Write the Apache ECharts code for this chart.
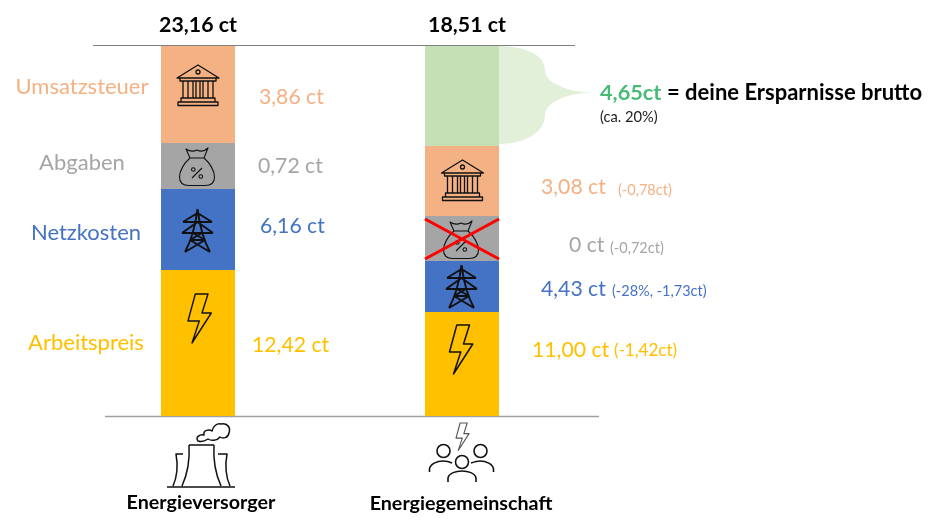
<!DOCTYPE html>
<html>
<head>
<meta charset="utf-8">
<title>Strompreis Vergleich</title>
<style>
    html, body { margin: 0; padding: 0; background: #fff; }
    #main { width: 946px; height: 529px; }
</style>
<script src="https://cdn.jsdelivr.net/npm/echarts@6/dist/echarts.min.js"></script>
</head>
<body>
<div id="main"></div>
<script>
// die Balken im Bild sind nicht masstaeblich, daher Hoehen aus dem Bild abgelesen, nicht die ct-Werte
var categories = ['Energieversorger', 'Energiegemeinschaft'];
var totals = ['23,16 ct', '18,51 ct'];
var arbeitspreis = [146, 104];
var netzkosten = [81, 51];
var abgaben = [46, 45];
var umsatzsteuer = [97, 70];
var ersparnis = [null, 100];

var seriesNames = ['Umsatzsteuer', 'Abgaben', 'Netzkosten', 'Arbeitspreis'];
var valueLabels1 = ['3,86 ct', '0,72 ct', '6,16 ct', '12,42 ct'];
var valueLabels2 = ['3,08 ct', '0 ct', '4,43 ct', '11,00 ct'];
var deltaLabels = ['(-0,78ct)', '(-0,72ct)', '(-28%, -1,73ct)', '(-1,42ct)'];

var ORANGE = '#F4B183', GRAY = '#A5A5A5', BLUE = '#4472C4', YELLOW = '#FFC000';
var colors = [ORANGE, GRAY, BLUE, YELLOW];
var FONT = 'Lato, "Noto Sans", sans-serif';

// icons, local coordinates
var ICON_BANK = 'M0 13 L21 0 L42 13 Z M19 7 a2 2 0 1 0 4 0 a2 2 0 1 0 -4 0 ' +
    'M3 13 V16 H39 V13 M6 16 V33 M11 16 V33 M16 16 V33 M19 16 V33 M23 16 V33 M26 16 V33 M31 16 V33 M36 16 V33 ' +
    'M4 33 H38 V37 H4 Z M1 37 H41 V40.5 H1 Z';
var ICON_BAG = 'M7 2 C10 4 14 5 18 3 C22 5 26 4 29 1 L25 11 H11 Z ' +
    'M11 11 C5 16 0.5 24 0.5 30 C0.5 36 4 38.5 10 38.5 H26 C32 38.5 35.5 36 35.5 30 C35.5 24 31 16 25 11 ' +
    'M13 31 L23 21 M12.5 22.5 a1.8 1.8 0 1 0 3.6 0 a1.8 1.8 0 1 0 -3.6 0 M20 29.5 a1.8 1.8 0 1 0 3.6 0 a1.8 1.8 0 1 0 -3.6 0';
var ICON_PYLON = 'M15.5 0 C13 20 9 32 3 43 M15.5 0 C18 20 22 32 28 43 M1 13 H30 M0 24 H31 M1 13 L15.5 4 L30 13 M0 24 L15.5 13 L31 24 ' +
    'M8 31 H23 M8 31 L28 43 M23 31 L3 43 M11 24 L23 31 M20 24 L8 31';
var ICON_BOLT = 'M7.3 0 H20 L14 19 H23.3 L4 49 L11.3 27 H0 Z';
var ICON_PLANT = 'M0 64 H68 M22 22 H47 M22 22 C23 38 20 52 15 63 M47 22 C46 38 49 52 54 63 ' +
    'M16 31 H9 C11 42 10 54 6 63 M51 31 H60 C58 42 59 54 63 63 ' +
    'M31 18 C28 14 33 11 37 12 C36 7 42 6 45 8 C46 3 50 0 54 1 C60 0 64 4 62 10 C61 15 56 16 53 14 C50 18 44 18 41 16 C38 18 34 19 31 18 Z';
var ICON_PEOPLE = 'M8 6 a6.5 6.5 0 1 0 13 0 a6.5 6.5 0 1 0 -13 0 M45 6 a6.5 6.5 0 1 0 13 0 a6.5 6.5 0 1 0 -13 0 ' +
    'M26.5 17 a6.5 6.5 0 1 0 13 0 a6.5 6.5 0 1 0 -13 0 ' +
    'M0.5 27 V24 C1 19 8 16 14 16 C18 16 21 17 23 18 M42 18 C45 17 48 16 51 16 C57 16 64 19 64.5 24 V27 ' +
    'M19 37 V33 C20 28 27 26 33 26 C39 26 46 28 47 33 V37';
var BUBBLE = 'M499 46 C525 46 545 55 545 70 C545 84 570 92 592 92.5 C570 93 545 101 545 115 C545 132 525 144 499 144 Z';

function txt(text, x, y, size, color, align, bold) {
    return {
        type: 'text', x: x, y: y, silent: true, z: 10,
        style: {
            text: text, fill: color, textAlign: align || 'left', textVerticalAlign: 'middle',
            font: (bold ? 'bold ' : '') + size + 'px ' + FONT
        }
    };
}

function icon(d, x, y, lw, color, scale) {
    return {
        type: 'path', x: x, y: y, scaleX: scale || 1, scaleY: scale || 1, silent: true,
        shape: { pathData: d },
        style: { fill: 'none', stroke: color || '#111', lineWidth: lw, lineJoin: 'round' }
    };
}

function line(x1, y1, x2, y2, color, lw, z) {
    return {
        type: 'line', silent: true, z: z,
        shape: { x1: x1, y1: y1, x2: x2, y2: y2 },
        style: { stroke: color, lineWidth: lw }
    };
}

var graphics = [
    line(93, 45.5, 575, 45.5, '#7F7F7F', 1, 1),
    line(105, 416.5, 599, 416.5, '#A0A0A0', 1.5, 1),
    // kopfzeile und beschriftung unten
    txt(totals[0], 198, 25, 21.3, '#000', 'center', true),
    txt(totals[1], 467, 25, 21.3, '#000', 'center', true),
    txt(categories[0], 201, 503, 19.7, '#000', 'center', true),
    txt(categories[1], 461, 504, 19.7, '#000', 'center', true),
    // linke spalte
    txt(seriesNames[0], 82, 87, 22, ORANGE, 'center'),
    txt(seriesNames[1], 82, 163, 22, GRAY, 'center'),
    txt(seriesNames[2], 86, 233, 22, BLUE, 'center'),
    txt(seriesNames[3], 86, 343, 22, YELLOW, 'center'),
    txt(valueLabels1[0], 259, 97, 21.2, ORANGE),
    txt(valueLabels1[1], 258, 166, 21.2, GRAY),
    txt(valueLabels1[2], 260, 226, 21.2, BLUE),
    txt(valueLabels1[3], 252, 345, 21.2, YELLOW),
    // rechte spalte
    txt(valueLabels2[0], 541, 187, 21.2, ORANGE),
    txt(deltaLabels[0], 618, 190, 14.5, ORANGE),
    txt(valueLabels2[1], 569, 245, 21.2, GRAY),
    txt(deltaLabels[1], 610, 248, 14.5, GRAY),
    txt(valueLabels2[2], 541, 289, 21.2, BLUE),
    txt(deltaLabels[2], 612, 291, 14.5, BLUE),
    txt(valueLabels2[3], 532, 350, 21.2, YELLOW),
    txt(deltaLabels[3], 614, 351, 17, YELLOW),
    txt('4,65ct', 600, 93, 21.7, '#48BB78', 'left', true),
    txt('= deine Ersparnisse brutto', 667, 93, 22, '#000', 'left', true),
    txt('(ca. 20%)', 600, 117, 14.7, '#222'),
    // abgaben durchgestrichen
    line(425, 219, 499, 259, '#FF0000', 3, 11),
    line(499, 219, 425, 259, '#FF0000', 3, 11)
];

// path geht nur in custom series, nicht im graphic component
var iconItems = [
    { type: 'path', silent: true, shape: { pathData: BUBBLE }, style: { fill: '#E2F0D9' } },
    icon(ICON_BANK, 177, 65, 1.3),
    icon(ICON_BAG, 179, 147, 1.1),
    icon(ICON_PYLON, 182, 209, 2),
    icon(ICON_BOLT, 188, 294, 1.4),
    icon(ICON_BANK, 441.5, 160, 1.3),
    icon(ICON_BAG, 443, 220, 1.1),
    icon(ICON_PYLON, 446, 265, 2),
    icon(ICON_BOLT, 449.5, 325, 1.5),
    icon(ICON_PLANT, 167, 423, 1.5),
    icon(ICON_PEOPLE, 429, 445, 1.6),
    icon(ICON_BOLT, 456, 423, 2, '#555', 0.56)
];

function stackBar(name, data, color) {
    return {
        name: name, type: 'bar', stack: 'preis', barWidth: 74, silent: true, z: 3,
        data: data, itemStyle: { color: color }
    };
}

var chart = echarts.init(document.getElementById('main'), null, { renderer: 'canvas' });
chart.setOption({
    animation: false,
    grid: { left: 66, top: 46, width: 528, height: 370 },
    xAxis: { type: 'category', data: categories, show: false },
    yAxis: { type: 'value', min: 0, max: 370, show: false },
    series: [
        stackBar(seriesNames[3], arbeitspreis, colors[3]),
        stackBar(seriesNames[2], netzkosten, colors[2]),
        stackBar(seriesNames[1], abgaben, colors[1]),
        stackBar(seriesNames[0], umsatzsteuer, colors[0]),
        stackBar('Ersparnis', ersparnis, '#C5E0B4'),
        {
            type: 'custom', coordinateSystem: 'none', silent: true, z: 5, data: [0],
            renderItem: function () {
                return { type: 'group', children: iconItems };
            }
        }
    ],
    graphic: graphics
});
</script>
</body>
</html>
